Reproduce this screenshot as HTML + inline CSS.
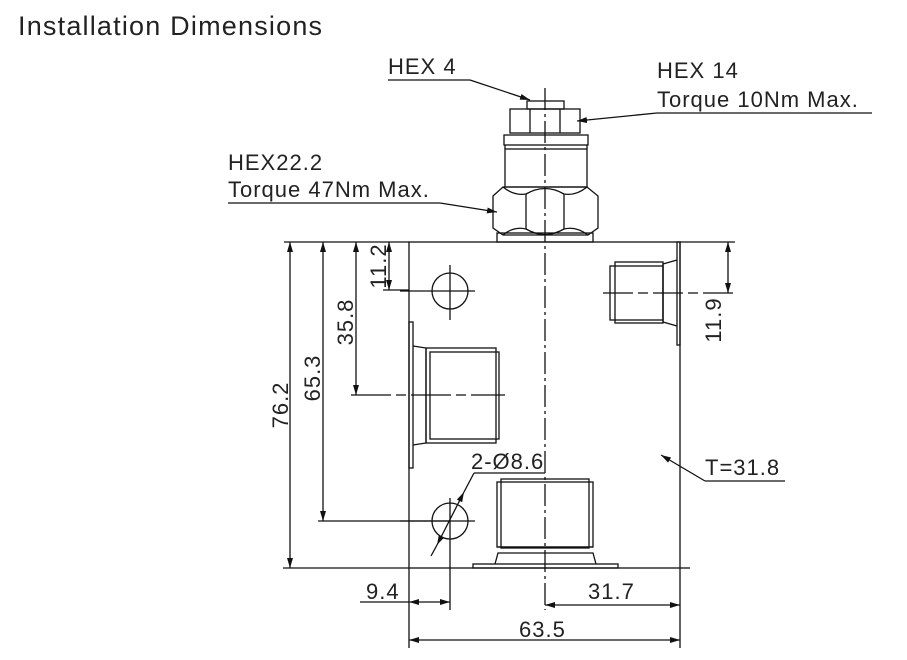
<!DOCTYPE html>
<html><head><meta charset="utf-8"><style>
html,body{margin:0;padding:0;background:#fff;width:907px;height:660px;overflow:hidden}
svg text{font-family:"Liberation Sans",Arial,sans-serif;fill:#222}
</style></head><body>
<svg width="907" height="660" viewBox="0 0 907 660" xmlns="http://www.w3.org/2000/svg">
<defs>
<marker id="a" viewBox="0 0 10 6" refX="10" refY="3" markerWidth="10" markerHeight="6" orient="auto-start-reverse" markerUnits="userSpaceOnUse"><path d="M0,0 L10,3 L0,6 z" fill="#111"/></marker>
</defs>
<text x="18" y="35" font-size="27" letter-spacing="1.2">Installation Dimensions</text>
<g stroke="#111" stroke-width="1.3" fill="none">
<rect x="409" y="242" width="271" height="326"/>
<line x1="284" y1="242" x2="409" y2="242"/>
<line x1="680" y1="242" x2="735" y2="242"/>
<line x1="283" y1="568" x2="409" y2="568"/>
<line x1="680" y1="568" x2="690" y2="568"/>
<rect x="497" y="233" width="96" height="9"/>
<path d="M493,196 L503,187 L587,187 L598,196 L598,228 L588,235 L503,235 L493,228 Z"/>
<line x1="526" y1="194" x2="526" y2="229"/><line x1="564" y1="194" x2="564" y2="229"/>
<path d="M503,187 Q514,196 526,194 Q545,183 564,194 Q576,196 587,187"/>
<path d="M503,235 Q514,226 526,229 Q545,240 564,229 Q576,226 588,235"/>
<rect x="505" y="149" width="82" height="38"/>
<rect x="504" y="135" width="84" height="10"/>
<line x1="505" y1="145" x2="505" y2="149"/><line x1="587" y1="145" x2="587" y2="149"/>
<rect x="510" y="109" width="70" height="24"/>
<line x1="530" y1="109" x2="530" y2="133"/><line x1="560" y1="109" x2="560" y2="133"/>
<rect x="527" y="101" width="37" height="8"/>
<line x1="545" y1="88" x2="545" y2="610" stroke-dasharray="22,4,3,4"/>
<circle cx="450" cy="291" r="18"/>
<line x1="400" y1="291" x2="475" y2="291"/><line x1="450" y1="265" x2="450" y2="320"/>
<circle cx="450" cy="521" r="18"/>
<line x1="400" y1="521" x2="475" y2="521"/><line x1="450" y1="498" x2="450" y2="610"/>
<rect x="409" y="322" width="4" height="146"/>
<path d="M413,346 L426,348 L426,443 L413,445"/>
<rect x="426" y="348" width="70" height="95"/>
<rect x="430" y="352" width="69" height="87"/>
<line x1="351" y1="395" x2="505" y2="395" stroke-dasharray="40,5,10,5"/>
<rect x="677" y="242" width="3" height="103"/>
<path d="M677,260 L663,264 L663,322 L677,326"/>
<rect x="615" y="262" width="48" height="61"/>
<rect x="610" y="266" width="53" height="54"/>
<line x1="603" y1="293" x2="735" y2="293" stroke-dasharray="30,5,10,5"/>
<rect x="473" y="564" width="145" height="4"/>
<path d="M495,564 L498,553 L593,553 L596,564"/>
<rect x="497" y="482" width="96" height="65"/>
<rect x="501" y="479" width="88" height="69"/>
<line x1="497" y1="547" x2="593" y2="547"/>
<line x1="290" y1="242" x2="290" y2="568" marker-start="url(#a)" marker-end="url(#a)"/>
<line x1="323" y1="242" x2="323" y2="521" marker-start="url(#a)" marker-end="url(#a)"/>
<line x1="318" y1="521" x2="450" y2="521"/>
<line x1="356" y1="242" x2="356" y2="395" marker-start="url(#a)" marker-end="url(#a)"/>
<line x1="389" y1="242" x2="389" y2="290" marker-start="url(#a)" marker-end="url(#a)"/>
<line x1="383" y1="290" x2="409" y2="290"/>
<line x1="728" y1="242" x2="728" y2="293" marker-start="url(#a)" marker-end="url(#a)"/>
<line x1="409" y1="568" x2="409" y2="648"/>
<line x1="680" y1="568" x2="680" y2="648"/>
<line x1="360" y1="602" x2="409" y2="602"/>
<line x1="409" y1="602" x2="450" y2="602" marker-start="url(#a)" marker-end="url(#a)"/>
<line x1="545" y1="605" x2="680" y2="605" marker-start="url(#a)" marker-end="url(#a)"/>
<line x1="409" y1="640" x2="680" y2="640" marker-start="url(#a)" marker-end="url(#a)"/>
<line x1="474" y1="473" x2="545" y2="473"/>
<line x1="474" y1="473" x2="464" y2="492"/>
<line x1="464" y1="492" x2="437" y2="545" marker-start="url(#a)" marker-end="url(#a)"/>
<line x1="437" y1="545" x2="431" y2="556"/>
<line x1="705" y1="481" x2="785" y2="481"/>
<line x1="705" y1="481" x2="661" y2="455" marker-end="url(#a)"/>
<line x1="388" y1="80" x2="470" y2="80"/>
<line x1="470" y1="80" x2="530" y2="100" marker-end="url(#a)"/>
<line x1="657" y1="113" x2="872" y2="113"/>
<line x1="657" y1="113" x2="577" y2="121" marker-end="url(#a)"/>
<line x1="228" y1="203" x2="440" y2="203"/>
<line x1="440" y1="203" x2="497" y2="212" marker-end="url(#a)"/>
</g>
<g font-size="22" letter-spacing="1">
<text x="388" y="74">HEX 4</text>
<text x="657" y="78">HEX 14</text>
<text x="657" y="107">Torque 10Nm Max.</text>
<text x="228" y="170">HEX22.2</text>
<text x="228" y="197">Torque 47Nm Max.</text>
<text x="471" y="469">2-Ø8.6</text>
<text x="705" y="475">T=31.8</text>
<text x="366" y="599">9.4</text>
<text x="588" y="599">31.7</text>
<text x="519" y="637">63.5</text>
<text transform="translate(288,405) rotate(-90)" text-anchor="middle">76.2</text>
<text transform="translate(320,378) rotate(-90)" text-anchor="middle">65.3</text>
<text transform="translate(353,322) rotate(-90)" text-anchor="middle">35.8</text>
<text transform="translate(386,266) rotate(-90)" text-anchor="middle">11.2</text>
<text transform="translate(721,320) rotate(-90)" text-anchor="middle">11.9</text>
</g>
</svg>
</body></html>
